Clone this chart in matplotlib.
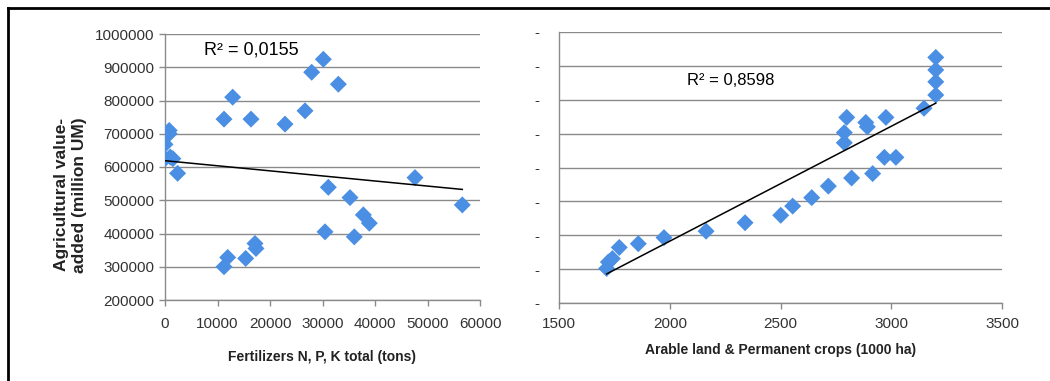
import numpy as np
import matplotlib.pyplot as plt
from matplotlib.lines import Line2D

plt.rcParams['font.family'] = ['Liberation Sans', 'DejaVu Sans']

# Left panel: fertilizer use vs agricultural value added
fert_tons = [0, 800, 800, 0, 1000, 1500, 2400, 11240, 12890, 16380, 22860, 26670,
             27940, 30160, 33020, 31110, 35240, 37780, 38920, 30480, 36060, 47620,
             56630, 11240, 11940, 15370, 17140, 17330]
fert_value = [668000, 710000, 700000, 625000, 630000, 625000, 581000, 744000, 810000,
              744000, 729000, 769000, 885000, 924000, 849000, 539000, 508000, 456000,
              431000, 405000, 390000, 568000, 486000, 300000, 328000, 325000, 370000,
              355000]

# Right panel: arable land vs agricultural value added
land_ha = [3201, 3201, 3201, 3201, 3148, 2799, 2788, 2788, 2885, 2892, 2976, 2969,
           3021, 2916, 2821, 2716, 2641, 2555, 2501, 2340, 2164, 1974, 1858, 1772,
           1741, 1723, 1715]
land_value = [925000, 888000, 853000, 814000, 775000, 748000, 703000, 673000, 733000,
              720000, 748000, 630000, 630000, 582000, 569000, 545000, 511000, 486000,
              459000, 437000, 412000, 393000, 375000, 364000, 331000, 321000, 302000]

r2_left = "R² = 0,0155"
r2_right = "R² = 0,8598"
y_ticks = [200000, 300000, 400000, 500000, 600000, 700000, 800000, 900000, 1000000]

W, H = 1050, 381
fig = plt.figure(figsize=(W / 100, H / 100), dpi=100)

def px_axes(x0, y0, x1, y1):
    return fig.add_axes([x0 / W, 1 - y1 / H, (x1 - x0) / W, (y1 - y0) / H])

marker_color = '#4a8fe3'
grid_color = '#8a8a8a'

def style(ax):
    for s in ['top', 'right']:
        ax.spines[s].set_visible(False)
    for s in ['left', 'bottom']:
        ax.spines[s].set_color('#8a8a8a')
        ax.spines[s].set_linewidth(1.0)
    ax.set_yticks(y_ticks)
    ax.set_ylim(200000, 1000000)
    ax.yaxis.grid(True, color=grid_color, linewidth=1.0)
    ax.set_axisbelow(True)
    ax.tick_params(axis='both', colors='#8a8a8a', labelcolor='#333333',
                   labelsize=11, length=4, width=1)

# Left
ax1 = px_axes(165, 34, 480, 300)
style(ax1)
ax1.scatter(fert_tons, fert_value, marker='D', s=75, color=marker_color,
            edgecolors='none', zorder=3)
k, b = np.polyfit(fert_tons, fert_value, 1)
xs = np.array([min(fert_tons), max(fert_tons)])
ax1.plot(xs, k * xs + b, color='black', linewidth=1.1, zorder=4)
ax1.set_xlim(0, 60000)
ax1.set_xticks(range(0, 60001, 10000))
ax1.set_yticklabels([str(v) for v in y_ticks])
ax1.tick_params(axis='x', pad=8)
ax1.text(0.125, 0.94, r2_left, transform=ax1.transAxes, fontsize=13,
         ha='left', va='center')
ax1.set_xlabel("Fertilizers N, P, K total (tons)", fontsize=10, fontweight='bold',
               color='#222222', labelpad=14)
ax1.set_ylabel("Agricultural value-\nadded (million UM)", fontsize=12.5,
               fontweight='bold', color='#222222', labelpad=6)
ax1.yaxis.label.set_y(0.395)

# Right
ax2 = px_axes(559, 32, 1002, 303)
style(ax2)
ax2.scatter(land_ha, land_value, marker='D', s=75, color=marker_color,
            edgecolors='none', zorder=3)
k2, b2 = np.polyfit(land_ha, land_value, 1)
xs2 = np.array([min(land_ha), max(land_ha)])
ax2.plot(xs2, k2 * xs2 + b2, color='black', linewidth=1.1, zorder=4)
ax2.set_xlim(1500, 3500)
ax2.set_xticks(range(1500, 3501, 500))
ax2.set_yticklabels(['-'] * len(y_ticks))
ax2.tick_params(axis='y', length=0, pad=14)
ax2.tick_params(axis='x', pad=6)
ax2.text(0.29, 0.82, r2_right, transform=ax2.transAxes, fontsize=12,
         ha='left', va='center', stretch='condensed')
ax2.set_xlabel("Arable land & Permanent crops (1000 ha)", fontsize=10,
               fontweight='bold', color='#222222', labelpad=9)

# frame around the figure (top and left edges visible)
fig.add_artist(Line2D([8 / W, 1], [1 - 8 / H, 1 - 8 / H], color='black', linewidth=2,
                      transform=fig.transFigure))
fig.add_artist(Line2D([8 / W, 8 / W], [0, 1 - 8 / H], color='black', linewidth=2,
                      transform=fig.transFigure))

fig.savefig('out.png', dpi=100)
